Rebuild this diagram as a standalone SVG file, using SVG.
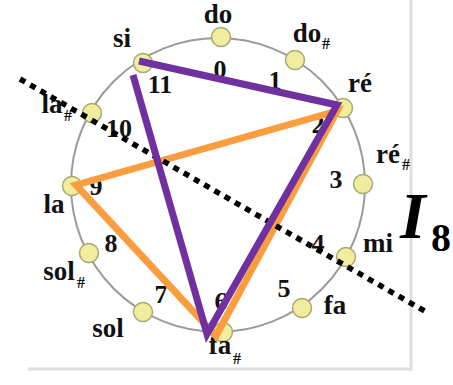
<svg xmlns="http://www.w3.org/2000/svg" width="453" height="385" viewBox="0 0 453 385">
<style>
.node{fill:#f0ee9c;stroke:#a9a878;stroke-width:1.5}
.lbl{font-family:"Liberation Serif","Times New Roman",serif;font-weight:bold;font-size:27px;fill:#111;text-anchor:middle}
.num{font-family:"Liberation Serif","Times New Roman",serif;font-weight:bold;font-size:26px;fill:#111;text-anchor:middle}
.sub{font-family:"Liberation Serif","Times New Roman",serif;font-weight:bold;font-size:16px;fill:#111}
.frame{stroke:#dedede;stroke-width:3;fill:none}
</style>
<rect width="453" height="385" fill="#fff"/>
<path class="frame" d="M411,0 V369 H28"/>
<circle cx="218" cy="185" r="147" fill="none" stroke="#9a9a9a" stroke-width="2"/>
<g id="n0"><circle class="node" cx="221" cy="37" r="9.5"/><text class="lbl" x="218" y="23">do</text><text class="num" x="220" y="78">0</text></g>
<g id="n1"><circle class="node" cx="295" cy="60" r="9.5"/><text class="lbl" x="307" y="42">do</text><text class="sub" x="322" y="49">#</text><text class="num" x="275" y="89">1</text></g>
<g id="n2"><circle class="node" cx="343" cy="108" r="9.5"/><text class="lbl" x="360" y="92">ré</text><text class="num" x="318" y="133">2</text></g>
<g id="n3"><circle class="node" cx="363" cy="184" r="9.5"/><text class="lbl" x="388" y="163">ré</text><text class="sub" x="402" y="170">#</text><text class="num" x="336" y="188">3</text></g>
<g id="n4"><circle class="node" cx="346" cy="257" r="9.5"/><text class="lbl" x="378" y="252">mi</text><text class="num" x="318" y="252">4</text></g>
<g id="n5"><circle class="node" cx="302" cy="308" r="9.5"/><text class="lbl" x="335" y="314">fa</text><text class="num" x="284" y="297">5</text></g>
<g id="n6"><circle class="node" cx="223" cy="332" r="9.5"/><text class="lbl" x="220" y="354">fa</text><text class="sub" x="233" y="364">#</text><text class="num" x="221" y="310">6</text></g>
<g id="n7"><circle class="node" cx="143" cy="312" r="9.5"/><text class="lbl" x="108" y="337">sol</text><text class="num" x="161" y="303">7</text></g>
<g id="n8"><circle class="node" cx="89" cy="253" r="9.5"/><text class="lbl" x="59" y="280">sol</text><text class="sub" x="77" y="288">#</text><text class="num" x="111" y="252">8</text></g>
<g id="n9"><circle class="node" cx="72" cy="186" r="9.5"/><text class="lbl" x="54" y="213">la</text><text class="num" x="96" y="195">9</text></g>
<g id="n10"><circle class="node" cx="92" cy="113" r="9.5"/><text class="lbl" x="52" y="113">la</text><text class="sub" x="64" y="121">#</text><text class="num" x="119" y="137">10</text></g>
<g id="n11"><circle class="node" cx="143" cy="63" r="9.5"/><text class="lbl" x="122" y="47">si</text><text class="num" x="160" y="93">11</text></g>
<g id="connectors" fill="none" stroke-linejoin="miter">
<path d="M337,111 L76,185 L216,336 Z" stroke="#fa9d3e" stroke-width="7"/>
<path d="M20,79 L428,313" stroke="#000" stroke-width="5.5" stroke-dasharray="6 5.8"/>
<path d="M133,75 L207,334 L337,105 L139,61" stroke="#7030a0" stroke-width="7"/>
</g>
<text x="400" y="238" font-family="'Liberation Serif','Times New Roman',serif" font-weight="bold" font-style="italic" font-size="66" fill="#000">I</text>
<text x="431" y="251" font-family="'Liberation Serif','Times New Roman',serif" font-weight="bold" font-size="40" fill="#000">8</text>
</svg>
